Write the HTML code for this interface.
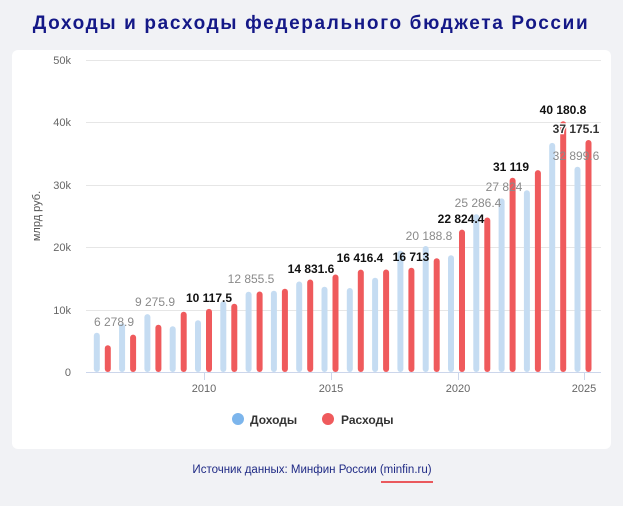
<!DOCTYPE html>
<html><head><meta charset="utf-8"><style>
html,body{margin:0;padding:0;width:623px;height:506px;background:#f1f2f5;overflow:hidden;font-family:"Liberation Sans","DejaVu Sans",sans-serif}
.card{position:absolute;left:12px;top:50px;width:599px;height:399px;background:#fff;border-radius:6px}
</style></head><body>
<div class="card"></div>
<svg width="623" height="506" style="position:absolute;left:0;top:0" xmlns="http://www.w3.org/2000/svg" font-family="Liberation Sans, DejaVu Sans, sans-serif">
<text x="311" y="29" text-anchor="middle" font-size="19" font-weight="bold" fill="#141887" letter-spacing="1.65">Доходы и расходы федерального бюджета России</text>
<g stroke="#e6e6e6" stroke-width="1">
<line x1="86" x2="601" y1="60.5" y2="60.5"/><line x1="86" x2="601" y1="122.5" y2="122.5"/><line x1="86" x2="601" y1="185.5" y2="185.5"/><line x1="86" x2="601" y1="247.5" y2="247.5"/><line x1="86" x2="601" y1="310.5" y2="310.5"/>
</g>
<line x1="86" x2="601" y1="372.5" y2="372.5" stroke="#ccd6eb"/>
<g stroke="#ccd6eb"><line x1="204.5" x2="204.5" y1="372" y2="380"/><line x1="331.5" x2="331.5" y1="372" y2="380"/><line x1="458.5" x2="458.5" y1="372" y2="380"/><line x1="584.5" x2="584.5" y1="372" y2="380"/></g>
<g font-size="11" fill="#666" text-anchor="end">
<text x="71" y="64">50k</text><text x="71" y="126">40k</text><text x="71" y="189">30k</text><text x="71" y="251">20k</text><text x="71" y="314">10k</text><text x="71" y="376">0</text>
</g>
<text transform="translate(40,216) rotate(-90)" text-anchor="middle" font-size="11" fill="#555">млрд руб.</text>
<g font-size="11" fill="#666" text-anchor="middle">
<text x="204" y="392">2010</text><text x="331" y="392">2015</text><text x="458" y="392">2020</text><text x="584" y="392">2025</text>
</g>
<g fill="#c5dcf2">
<rect x="93.8" y="332.8" width="6" height="39.2" rx="3"/>
<rect x="119.1" y="323.4" width="6" height="48.6" rx="3"/>
<rect x="144.4" y="314.1" width="6" height="57.9" rx="3"/>
<rect x="169.7" y="326.2" width="6" height="45.8" rx="3"/>
<rect x="195" y="320.2" width="6" height="51.8" rx="3"/>
<rect x="220.3" y="301.1" width="6" height="70.9" rx="3"/>
<rect x="245.6" y="291.8" width="6" height="80.2" rx="3"/>
<rect x="270.9" y="290.8" width="6" height="81.2" rx="3"/>
<rect x="296.2" y="281.5" width="6" height="90.5" rx="3"/>
<rect x="321.5" y="286.8" width="6" height="85.2" rx="3"/>
<rect x="346.8" y="288" width="6" height="84" rx="3"/>
<rect x="372.1" y="277.8" width="6" height="94.2" rx="3"/>
<rect x="397.4" y="250.6" width="6" height="121.4" rx="3"/>
<rect x="422.7" y="246" width="6" height="126" rx="3"/>
<rect x="448" y="255.2" width="6" height="116.8" rx="3"/>
<rect x="473.3" y="214.2" width="6" height="157.8" rx="3"/>
<rect x="498.6" y="198.4" width="6" height="173.6" rx="3"/>
<rect x="523.9" y="190.3" width="6" height="181.7" rx="3"/>
<rect x="549.2" y="142.9" width="6" height="229.1" rx="3"/>
<rect x="574.5" y="166.7" width="6" height="205.3" rx="3"/>
</g>
<g fill="#ef5a5c">
<rect x="104.8" y="345.3" width="6" height="26.7" rx="3"/>
<rect x="130.1" y="334.6" width="6" height="37.4" rx="3"/>
<rect x="155.4" y="324.8" width="6" height="47.2" rx="3"/>
<rect x="180.7" y="311.7" width="6" height="60.3" rx="3"/>
<rect x="206" y="308.9" width="6" height="63.1" rx="3"/>
<rect x="231.3" y="303.8" width="6" height="68.2" rx="3"/>
<rect x="256.6" y="291.5" width="6" height="80.5" rx="3"/>
<rect x="281.9" y="288.7" width="6" height="83.3" rx="3"/>
<rect x="307.2" y="279.5" width="6" height="92.5" rx="3"/>
<rect x="332.5" y="274.5" width="6" height="97.5" rx="3"/>
<rect x="357.8" y="269.6" width="6" height="102.4" rx="3"/>
<rect x="383.1" y="269.5" width="6" height="102.5" rx="3"/>
<rect x="408.4" y="267.7" width="6" height="104.3" rx="3"/>
<rect x="433.7" y="258.3" width="6" height="113.7" rx="3"/>
<rect x="459" y="229.6" width="6" height="142.4" rx="3"/>
<rect x="484.3" y="217.5" width="6" height="154.5" rx="3"/>
<rect x="509.6" y="177.8" width="6" height="194.2" rx="3"/>
<rect x="534.9" y="170.1" width="6" height="201.9" rx="3"/>
<rect x="560.2" y="121.3" width="6" height="250.7" rx="3"/>
<rect x="585.5" y="140" width="6" height="232" rx="3"/>
</g>
<g font-size="12" fill="#8a8a8a" text-anchor="middle">
<text x="114" y="326">6 278.9</text>
<text x="155" y="306">9 275.9</text>
<text x="251" y="283">12 855.5</text>
<text x="429" y="240">20 188.8</text>
<text x="478" y="207">25 286.4</text>
<text x="504" y="191">27 824</text>
<text x="576" y="160">32 899.6</text>
</g>
<g font-size="12" fill="#111" text-anchor="middle" font-weight="bold">
<text x="209" y="302">10 117.5</text>
<text x="311" y="273">14 831.6</text>
<text x="360" y="262">16 416.4</text>
<text x="411" y="261">16 713</text>
<text x="461" y="223">22 824.4</text>
<text x="511" y="171">31 119</text>
<text x="563" y="114">40 180.8</text>
<text x="576" y="133" stroke="#fff" stroke-width="2.5" paint-order="stroke" fill="#333">37 175.1</text>
</g>
<circle cx="238" cy="419" r="6" fill="#7cb5ec"/>
<text x="250" y="424" font-size="12" font-weight="bold" fill="#333">Доходы</text>
<circle cx="328" cy="419" r="6" fill="#ef5a5c"/>
<text x="341" y="424" font-size="12" font-weight="bold" fill="#333">Расходы</text>
<text x="312" y="473" text-anchor="middle" font-size="11.5" fill="#1f2a85">Источник данных: Минфин России (minfin.ru)</text>
<line x1="381" x2="433" y1="482" y2="482" stroke="#e8262b" stroke-width="1.5"/>
</svg>
</body></html>
